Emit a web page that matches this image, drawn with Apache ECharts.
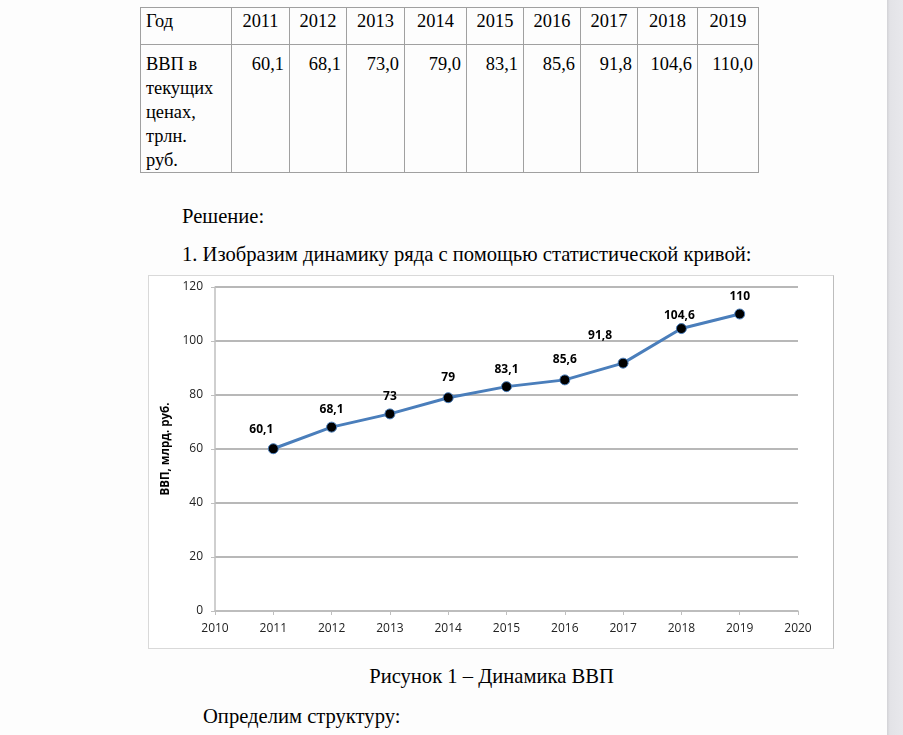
<!DOCTYPE html>
<html>
<head>
<meta charset="utf-8">
<script src="https://cdn.jsdelivr.net/npm/echarts@6/dist/echarts.min.js"></script>
<style>
  html, body { margin: 0; padding: 0; }
  body { width: 903px; height: 735px; position: relative; background: #fdfdfd; overflow: hidden;
         font-family: "Liberation Serif", "Times New Roman", serif; color: #000; }
  .edge { position: absolute; left: 887px; top: 0; width: 16px; height: 735px;
          background: linear-gradient(to right, #d2d2d6 0px, #e3e3e7 3px, #e8e8ec 16px); }
  table { position: absolute; left: 140px; top: 7px; border-collapse: collapse; font-size: 18.4px;
          font-family: "Liberation Serif", "Times New Roman", serif; }
  td { border: 1px solid #a0a0a0; padding: 0 5px; vertical-align: top; line-height: 24px;
       font-family: "Liberation Serif", "Times New Roman", serif; }
  tr.r1 td { height: 35px; text-align: center; padding-top: 1px; }
  tr.r1 td.h { text-align: left; }
  tr.r2 td { height: 119px; text-align: right; padding-top: 7px; }
  tr.r2 td.h { text-align: left; }
  .txt { position: absolute; font-size: 20.6px; line-height: 24px; white-space: nowrap; }
  #chart { position: absolute; left: 148px; top: 275px; width: 686px; height: 374px;
           border: 1px solid #d9d9d9; border-right-color: #bdbdbd; box-sizing: border-box; background: #fff; }
</style>
</head>
<body>
<div class="edge"></div>
<table id="tbl"></table>
<div class="txt" style="left:182px; top:204px;">Решение:</div>
<div class="txt" style="left:182px; top:242px;">1. Изобразим динамику ряда с помощью статистической кривой:</div>
<div id="chart"></div>
<div class="txt" style="left:0; width:983px; text-align:center; top:664px;">Рисунок 1 – Динамика ВВП</div>
<div class="txt" style="left:203px; top:704px;">Определим структуру:</div>
<script>
// ---- data ----
const years = [2011, 2012, 2013, 2014, 2015, 2016, 2017, 2018, 2019];
const gdp = [60.1, 68.1, 73.0, 79.0, 83.1, 85.6, 91.8, 104.6, 110.0];
const tableRowHeader = ["Год", "ВВП в текущих ценах, трлн. руб."];
const yAxisName = "ВВП, млрд. руб.";

// ---- table ----
const fmt1 = v => v.toFixed(1).replace('.', ',');
const colW = [91, 58, 57, 58, 62, 57, 57, 57, 60, 61];
let html = '<tr class="r1"><td class="h" style="width:' + (colW[0]-11) + 'px">' + tableRowHeader[0] + '</td>';
years.forEach((y, i) => { html += '<td style="width:' + (colW[i+1]-11) + 'px">' + y + '</td>'; });
html += '</tr><tr class="r2"><td class="h">ВВП в<br>текущих<br>ценах,<br>трлн.<br>руб.</td>';
gdp.forEach(v => { html += '<td>' + fmt1(v) + '</td>'; });
html += '</tr>';
document.getElementById('tbl').innerHTML = html;

// ---- chart ----
const labelOffsets = [[-12, -2], [0, 0], [0, 0], [0, -3], [0, 0], [0, -3], [-23, -10], [-2, 4], [0, 0]];
const fmtLabel = v => String(v).replace('.', ',');
const chart = echarts.init(document.getElementById('chart'));
chart.setOption({
  animation: false,
  grid: { left: 66, top: 11, right: 35, bottom: 37 },
  xAxis: {
    type: 'value', min: 2010, max: 2020, interval: 1,
    axisLine: { show: true, lineStyle: { color: '#bfbfbf', width: 1.5 } },
    axisTick: { show: true, length: 4, lineStyle: { color: '#bfbfbf' } },
    axisLabel: { color: '#222', fontFamily: 'Open Sans, Liberation Sans, sans-serif', fontSize: 12, margin: 12,
                 formatter: v => String(v) },
    splitLine: { show: false }
  },
  yAxis: {
    type: 'value', min: 0, max: 120, interval: 20,
    name: yAxisName, nameLocation: 'middle', nameGap: 30, nameRotate: 90,
    nameTextStyle: { fontFamily: 'Open Sans, Liberation Sans, sans-serif', fontSize: 11.5, fontWeight: 'bold', color: '#000' },
    axisLine: { show: true, lineStyle: { color: '#bfbfbf', width: 1.5 } },
    axisTick: { show: true, length: 4, inside: false, lineStyle: { color: '#bfbfbf' } },
    axisLabel: { color: '#222', fontFamily: 'Open Sans, Liberation Sans, sans-serif', fontSize: 12, margin: 12 },
    splitLine: { show: true, lineStyle: { color: '#b8b8b8', width: 2 } }
  },
  series: [{
    type: 'line',
    data: years.map((y, i) => ({
      value: [y, gdp[i]],
      label: { offset: labelOffsets[i] }
    })),
    symbol: 'circle', symbolSize: 10,
    itemStyle: { color: '#000', borderColor: '#4a7ebb', borderWidth: 1 },
    lineStyle: { color: '#4a7ebb', width: 3 },
    label: {
      show: true, position: 'top', distance: 6,
      formatter: p => fmtLabel(p.value[1]),
      fontFamily: 'Open Sans, Liberation Sans, sans-serif', fontSize: 12, fontWeight: 'bold', color: '#000'
    },
    z: 3
  }]
});
</script>
</body>
</html>
